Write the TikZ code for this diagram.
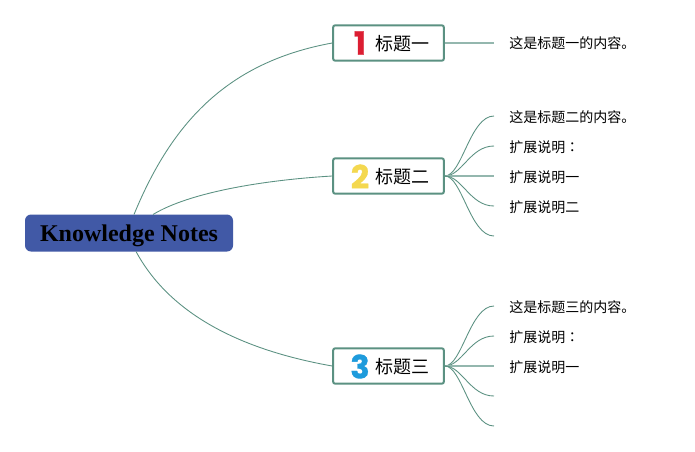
\documentclass[tikz,border=0pt]{standalone}
\usepackage{fontspec}
\setmainfont{Liberation Serif}
\newfontfamily\cjk{Noto Sans CJK SC}
\newfontfamily\cjktc{Noto Sans CJK TC}
\newfontfamily\digitfont[BoldFeatures={FakeBold=1}]{Poppins}
\definecolor{teal1}{HTML}{5B9182}
\definecolor{rootblue}{HTML}{4159A6}
\definecolor{oneRed}{HTML}{DC1E32}
\definecolor{twoYel}{HTML}{F4D84F}
\definecolor{threeBlu}{HTML}{1E9BDC}
\tikzset{
  x=0.75pt,y=-0.75pt,
  rootbox/.style={draw=none,fill=rootblue,rounded corners=4.5pt,minimum width=156pt,minimum height=27.75pt,inner sep=0pt,
    text height=12pt,text depth=0pt,font=\fontsize{18pt}{20pt}\selectfont\bfseries,text=black},
  topic/.style={draw=teal1,line width=1.5pt,fill=white,rounded corners=1.5pt,minimum width=83pt,minimum height=26.5pt,inner sep=0pt},
  topictext/.style={inner sep=0pt,anchor=west,font=\fontsize{13.5pt}{16pt}\cjk,text=black},
  digit/.style={inner sep=0pt,font=\fontsize{24pt}{26pt}\digitfont\bfseries},
  leaf/.style={inner sep=0pt,anchor=west,font=\fontsize{10.5pt}{13pt}\cjk,text=black},
  link/.style={draw=teal1,line width=0.65pt},
  flat/.style={draw=teal1!65,line width=0.9pt}
}
\begin{document}
\begin{tikzpicture}
\useasboundingbox (0,0) rectangle (695,451);
\fill[white] (0,0) rectangle (695,451);
\node[rootbox] (root) at (129,233) {Knowledge Notes};
\coordinate (r1) at (134,214.5);
\coordinate (r2) at (153,214.5);
\coordinate (r3) at (136,251.5);
\node[topic] (t1) at (388.5,43) {};
\node[topic] (t2) at (388.5,176) {};
\node[topic] (t3) at (388.5,366) {};
\node[digit,text=oneRed] (d1) at (360,43) {1};
\node[digit,text=twoYel] (d2) at (360,176.5) {2};
\node[digit,text=threeBlu] (d3) at (360,366.5) {3};
\node[topictext] (l1) at (375,43.5) {标题一};
\node[topictext] (l2) at (375,176.5) {标题二};
\node[topictext] (l3) at (375,366.5) {标题三};
\draw[link] (r1) .. controls (172,122) and (228,62) .. (t1.west);
\draw[link] (r2) .. controls (190,192) and (265,180) .. (t2.west);
\draw[link] (r3) .. controls (165,305) and (225,347) .. (t3.west);
% topic 1
\coordinate (a1) at (494,43);
\node[leaf] (n11) at (509,43.5) {这是标题一的内容。};
\draw[flat] (t1.east) -- (a1);
% topic 2
\coordinate (b1) at (494,116);
\coordinate (b2) at (494,146);
\coordinate (b3) at (494,176);
\coordinate (b4) at (494,206);
\coordinate (b5) at (494,236);
\node[leaf] (n21) at (509,117) {这是标题二的内容。};
\node[leaf] (n22) at (509,147) {扩展说明{\cjktc ：}};
\node[leaf] (n23) at (509,177) {扩展说明一};
\node[leaf] (n24) at (509,207) {扩展说明二};
\draw[link] (t2.east) .. controls (462,176) and (470,116) .. (b1);
\draw[link] (t2.east) .. controls (462,176) and (470,146) .. (b2);
\draw[flat] (t2.east) -- (b3);
\draw[link] (t2.east) .. controls (462,176) and (470,206) .. (b4);
\draw[link] (t2.east) .. controls (462,176) and (470,236) .. (b5);
% topic 3
\coordinate (c1) at (494,306);
\coordinate (c2) at (494,336);
\coordinate (c3) at (494,366);
\coordinate (c4) at (494,396);
\coordinate (c5) at (494,426);
\node[leaf] (n31) at (509,307) {这是标题三的内容。};
\node[leaf] (n32) at (509,337) {扩展说明{\cjktc ：}};
\node[leaf] (n33) at (509,367) {扩展说明一};
\draw[link] (t3.east) .. controls (462,366) and (470,306) .. (c1);
\draw[link] (t3.east) .. controls (462,366) and (470,336) .. (c2);
\draw[flat] (t3.east) -- (c3);
\draw[link] (t3.east) .. controls (462,366) and (470,396) .. (c4);
\draw[link] (t3.east) .. controls (462,366) and (470,426) .. (c5);
\end{tikzpicture}
\end{document}
